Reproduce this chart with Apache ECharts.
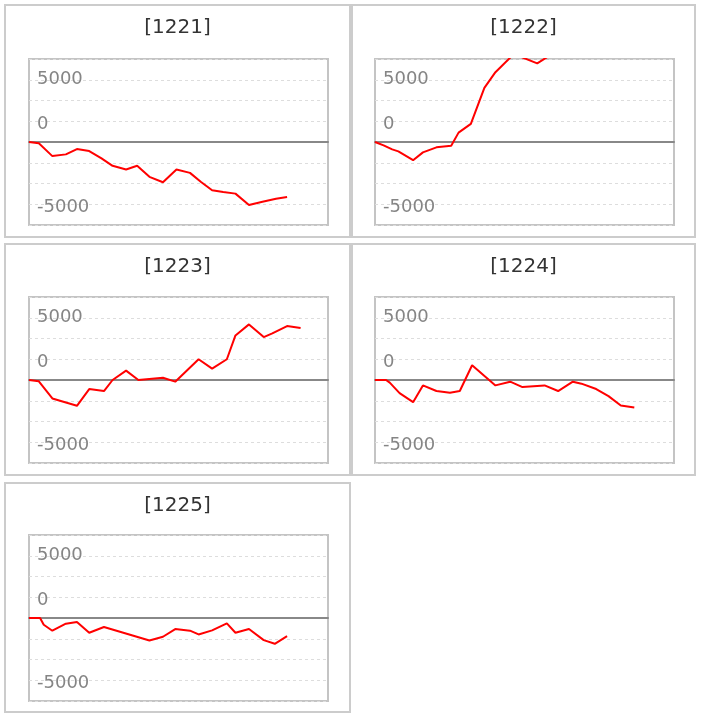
<!DOCTYPE html>
<html>
<head>
<meta charset="utf-8">
<script src="https://cdn.jsdelivr.net/npm/echarts@6/dist/echarts.min.js"></script>
<style>
  html, body { margin: 0; padding: 0; background: #fff; }
  #chart { width: 702px; height: 717px; }
</style>
</head>
<body>
<div id="chart"></div>
<script>
// ---- data ----
const panelTitles = ['[1221]', '[1222]', '[1223]', '[1224]', '[1225]'];

const x1221 = [0, 0.8, 1.9, 3.0, 3.9, 4.9, 5.9, 6.8, 7.9, 8.8, 9.8, 10.9, 12.0, 13.1, 14.0, 14.9, 15.8, 16.8, 17.9, 19.0, 20.1, 21.0];
const y1221 = [0, -160, -1700, -1490, -850, -1090, -1980, -2870, -3310, -2870, -4200, -4850, -3310, -3720, -4810, -5820, -6020, -6220, -7590, -7190, -6830, -6620];

const x1222 = [0, 0.7, 1.4, 1.9, 3.1, 3.9, 5.0, 6.2, 6.8, 7.8, 8.9, 9.8, 11.3, 13.2, 14.3, 15.5, 17.0, 18.5, 20.0, 21.5];
const y1222 = [0, -400, -890, -1130, -2190, -1250, -640, -450, 1130, 2190, 6520, 8410, 10600, 9470, 10500, 11800, 12500, 11600, 12900, 13500];

const x1223 = [0, 0.8, 1.9, 3.9, 4.9, 6.1, 6.8, 7.9, 8.9, 10.9, 11.9, 13.8, 14.9, 16.1, 16.8, 17.9, 19.1, 19.8, 21.0, 22.1];
const y1223 = [0, -160, -2220, -3110, -1090, -1330, 0, 1130, 0, 280, -200, 2500, 1370, 2500, 5370, 6700, 5170, 5610, 6500, 6260];

const x1224 = [0, 0.9, 1.2, 2.0, 3.1, 3.9, 5.0, 6.1, 6.9, 7.9, 9.8, 11.0, 12.0, 13.8, 14.9, 16.1, 16.8, 18.0, 19.0, 20.0, 21.1];
const y1224 = [0, 0, -320, -1575, -2670, -650, -1330, -1530, -1330, 1780, -650, -200, -850, -650, -1330, -200, -440, -1090, -1940, -3070, -3310];

const x1225 = [0, 0.9, 1.2, 1.9, 3.0, 3.9, 4.9, 6.1, 9.8, 10.9, 11.9, 13.1, 13.8, 14.9, 16.1, 16.8, 17.9, 19.1, 20.0, 21.0];
const y1225 = [0, 0, -810, -1530, -690, -480, -1780, -1090, -2710, -2260, -1330, -1530, -1980, -1490, -650, -1780, -1330, -2670, -3110, -2180];

const xSeries = [x1221, x1222, x1223, x1224, x1225];
const ySeries = [y1221, y1222, y1223, y1224, y1225];

// y axis tick labels as shown in the picture
const yTickValues = [7500, 2500, -7500];
const yTickLabels = ['5000', '0', '-5000'];
const yMin = -10000, yMax = 10000, yInterval = 2500;
const xMin = 0, xMax = 24.33;

// ---- layout ----
const panelBoxes = [
  { x: 5,   y: 5,   w: 345, h: 232 },
  { x: 352, y: 5,   w: 343, h: 232 },
  { x: 5,   y: 244, w: 345, h: 231 },
  { x: 352, y: 244, w: 343, h: 231 },
  { x: 5,   y: 483, w: 345, h: 229 }
];
const gridBoxes = [
  { left: 29,  top: 59 },
  { left: 375, top: 59 },
  { left: 29,  top: 297 },
  { left: 375, top: 297 },
  { left: 29,  top: 535 }
];
const titlePos = [
  { x: 177.5, y: 28 },
  { x: 523.5, y: 28 },
  { x: 177.5, y: 267 },
  { x: 523.5, y: 267 },
  { x: 177.5, y: 506 }
];

const FONT = '"DejaVu Sans", Verdana, sans-serif';

const grids = [], xAxes = [], yAxes = [], series = [], graphics = [];
panelTitles.forEach((t, i) => {
  const b = panelBoxes[i];
  graphics.push({
    type: 'rect', shape: { x: b.x, y: b.y, width: b.w, height: b.h },
    style: { fill: 'none', stroke: '#cccccc', lineWidth: 2 }, silent: true, z: -1
  });
  graphics.push({
    type: 'text', x: titlePos[i].x, y: titlePos[i].y,
    style: {
      text: t, fill: '#333333', font: '20px ' + FONT,
      align: 'center', verticalAlign: 'middle',
      textAlign: 'center', textVerticalAlign: 'middle'
    }, silent: true
  });
  grids.push({
    left: gridBoxes[i].left, top: gridBoxes[i].top, width: 299, height: 166,
    show: true, borderColor: '#c4c4c4', borderWidth: 2, backgroundColor: 'transparent'
  });
  xAxes.push({
    type: 'value', gridIndex: i, min: xMin, max: xMax,
    axisLine: { show: true, onZero: true, lineStyle: { color: '#888888', width: 2 } },
    axisTick: { show: false }, axisLabel: { show: false }, splitLine: { show: false }
  });
  yAxes.push({
    type: 'value', gridIndex: i, min: yMin, max: yMax, interval: yInterval,
    axisLine: { show: false }, axisTick: { show: false },
    axisLabel: {
      inside: true, margin: 8, color: '#858585', fontSize: 18, fontFamily: FONT,
      showMinLabel: true, showMaxLabel: true,
      formatter: (v) => {
        const k = yTickValues.indexOf(v);
        if (k < 0) return '';
        return k === 0 ? '{hi|' + yTickLabels[k] + '}' : '{lo|' + yTickLabels[k] + '}';
      },
      rich: {
        hi: { color: '#858585', fontSize: 18, fontFamily: FONT, padding: [0, 0, 1, 0] },
        lo: { color: '#858585', fontSize: 18, fontFamily: FONT, padding: [6, 0, 0, 0] }
      }
    },
    splitLine: { show: true, lineStyle: { color: '#dddddd', width: 1, type: [3, 3] } }
  });
  series.push({
    type: 'line', xAxisIndex: i, yAxisIndex: i,
    data: xSeries[i].map((x, k) => [x, ySeries[i][k]]),
    showSymbol: false, symbol: 'none', clip: true,
    lineStyle: { color: '#ff0000', width: 2 }, itemStyle: { color: '#ff0000' },
    animation: false, z: 3
  });
});

const chart = echarts.init(document.getElementById('chart'), null, { renderer: 'canvas' });
chart.setOption({
  animation: false,
  backgroundColor: '#ffffff',
  grid: grids, xAxis: xAxes, yAxis: yAxes, series: series,
  graphic: graphics
});
</script>
</body>
</html>
